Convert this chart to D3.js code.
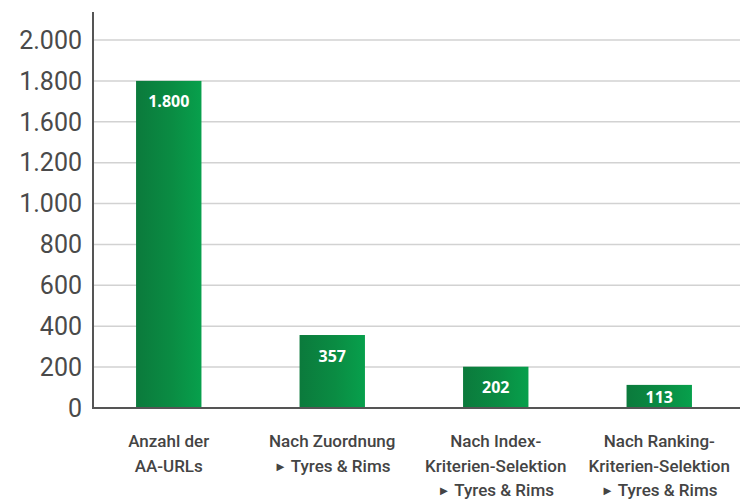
<!DOCTYPE html>
<html>
<head>
<meta charset="utf-8">
<script src="https://cdn.jsdelivr.net/npm/d3@7"></script>
<style>
  body { margin: 0; background: #fff; }
  svg { display: block; }
</style>
</head>
<body>
<svg id="svg"></svg>
<script>
const categories = [
  ['Anzahl der', 'AA-URLs'],
  ['Nach Zuordnung', '►Tyres & Rims'],
  ['Nach Index-', 'Kriterien-Selektion', '►Tyres & Rims'],
  ['Nach Ranking-', 'Kriterien-Selektion', '►Tyres & Rims']
]
const values = [1800, 357, 202, 113]
// the original axis skips 1.400, the labels sit evenly spaced
const tickValues = [0, 200, 400, 600, 800, 1000, 1200, 1600, 1800, 2000]

const width = 740
const height = 500
const padding = { top: 40, left: 93, bottom: 92 }
const axisBottom = height - padding.bottom

const de = d3.formatLocale({ decimal: ',', thousands: '.', grouping: [3], currency: ['', '€'] })
const fmt = de.format(',d')

const svg = d3.select('#svg')
  .attr('width', width)
  .attr('height', height)

const defs = svg.append('defs')
const grad = defs.append('linearGradient')
  .attr('id', 'barGrad')
  .attr('x1', '0%').attr('x2', '100%')
grad.append('stop').attr('offset', '0%').attr('stop-color', '#0b7a3c')
grad.append('stop').attr('offset', '55%').attr('stop-color', '#0a8c43')
grad.append('stop').attr('offset', '100%').attr('stop-color', '#07a04c')

const step = (axisBottom - padding.top) / (tickValues.length - 1)
const yScale = d3.scaleLinear()
  .domain(tickValues)
  .range(tickValues.map((d, i) => axisBottom - i * step))

const xScale = d3.scaleBand()
  .domain(d3.range(categories.length))
  .range([87, 741])
  .paddingInner(0.6)
  .paddingOuter(0.3)

// gridlines
svg.append('g')
  .selectAll('line')
  .data(tickValues.slice(1))
  .enter()
  .append('line')
  .attr('x1', padding.left)
  .attr('x2', width)
  .attr('y1', d => yScale(d))
  .attr('y2', d => yScale(d))
  .attr('stroke', '#d2d2d2')
  .attr('stroke-width', 1.5)

// y tick labels
svg.append('g')
  .selectAll('text')
  .data(tickValues)
  .enter()
  .append('text')
  .attr('x', 82)
  .attr('y', d => yScale(d))
  .attr('dy', '0.35em')
  .attr('text-anchor', 'end')
  .attr('fill', '#4a4a4a')
  .style('font-family', 'Roboto, sans-serif')
  .style('font-size', '25px')
  .text(d => fmt(d))

// bars
svg.append('g')
  .selectAll('rect')
  .data(values)
  .enter()
  .append('rect')
  .attr('x', (d, i) => xScale(i))
  .attr('y', d => yScale(d))
  .attr('width', xScale.bandwidth())
  .attr('height', d => axisBottom - yScale(d))
  .attr('fill', 'url(#barGrad)')

// bar value labels
svg.append('g')
  .selectAll('text')
  .data(values)
  .enter()
  .append('text')
  .attr('x', (d, i) => xScale(i) + xScale.bandwidth() / 2)
  .attr('y', d => Math.min(yScale(d) + 21, axisBottom - 11))
  .attr('dy', '0.35em')
  .attr('text-anchor', 'middle')
  .attr('fill', '#fff')
  .style('font-family', '"Open Sans", sans-serif')
  .style('font-weight', 700)
  .style('font-size', '16px')
  .text(d => fmt(d))

// axes lines
svg.append('line')
  .attr('x1', padding.left).attr('x2', padding.left)
  .attr('y1', 12).attr('y2', axisBottom + 1)
  .attr('stroke', '#555').attr('stroke-width', 2)
svg.append('line')
  .attr('x1', padding.left - 1).attr('x2', width)
  .attr('y1', axisBottom).attr('y2', axisBottom)
  .attr('stroke', '#555').attr('stroke-width', 2)

// category labels
const cat = svg.append('g')
  .selectAll('text')
  .data(categories)
  .enter()
  .append('text')
  .attr('x', (d, i) => xScale(i) + xScale.bandwidth() / 2)
  .attr('y', 447)
  .attr('text-anchor', 'middle')
  .attr('fill', '#444')
  .style('font-family', 'Roboto, sans-serif')
  .style('font-weight', 500)
  .style('font-size', '17px')

cat.each(function (d, ci) {
  const t = d3.select(this)
  d.forEach((line, li) => {
    const x = xScale(ci) + xScale.bandwidth() / 2
    const ts = t.append('tspan')
      .attr('x', x)
      .attr('y', 447 + li * 24.5)
    if (line.startsWith('►')) {
      ts.append('tspan').style('font-size', '13px').attr('dy', -1).text('►')
      ts.append('tspan').attr('dy', 1).text(' ' + line.slice(1))
    } else {
      ts.text(line)
    }
  })
})
</script>
</body>
</html>
